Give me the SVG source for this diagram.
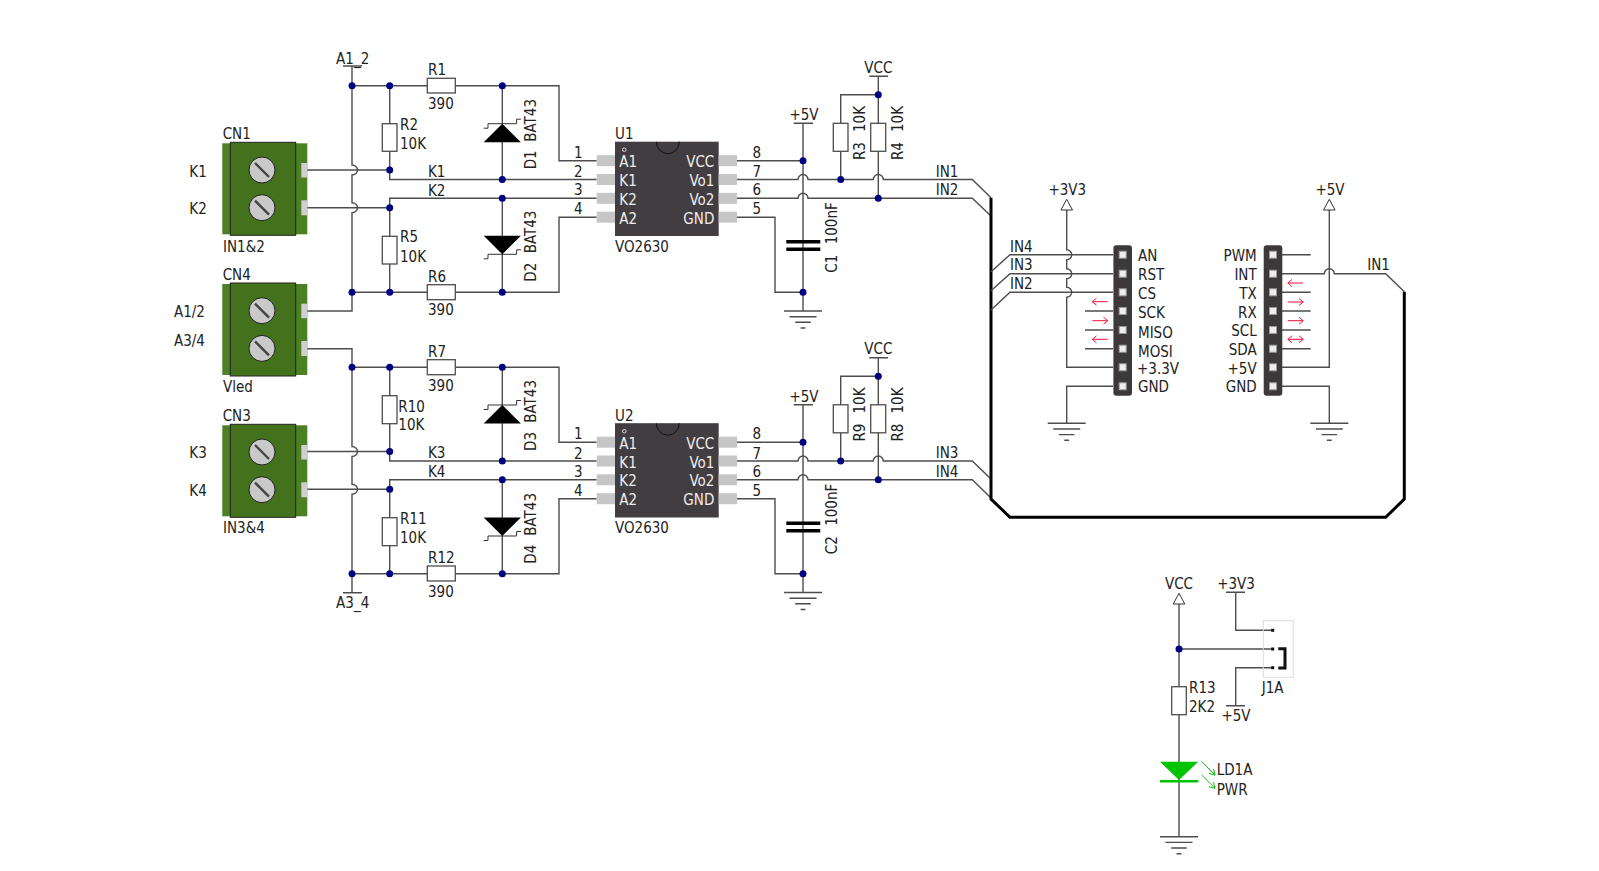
<svg xmlns="http://www.w3.org/2000/svg" width="1599" height="871" viewBox="0 0 1599 871">
<style>
text{font-family:"DejaVu Sans Condensed","DejaVu Sans",sans-serif;font-stretch:condensed;font-size:15px;fill:#222}
.m{text-anchor:middle}.e{text-anchor:end}
.w{fill:none;stroke:#4d4d4d;stroke-width:1.4}
.t{fill:none;stroke:#333;stroke-width:1}
.b{fill:none;stroke:#000;stroke-width:3}
.r{fill:#fff;stroke:#4d4d4d;stroke-width:1.3}
.d{fill:#000080}
.ic{fill:#423d40}
.pin{fill:#c6c6c6}
.it{fill:#eee}
.a{fill:none;stroke:#f0103a;stroke-width:1}
.g{fill:none;stroke:#10c010;stroke-width:1}
</style>
<defs>
<g id="gnd"><path class="w" d="M-19 0H19M-13.500 5.700H13.500M-7.800 11.300H7.800M-2.400 17H2.400"/></g>
<circle id="dot" class="d" r="3.500"/>
<g id="term">
<rect x="-39.700" y="1" width="85" height="91" fill="#4d7f24"/>
<rect x="-31.700" width="65.400" height="93" fill="#44711c" stroke="#222" stroke-width="1"/>
<rect x="39.300" y="20.700" width="6" height="14.500" fill="#cfcfcf"/>
<rect x="39.300" y="58" width="6" height="15" fill="#cfcfcf"/>
<g fill="#c9c9c9" stroke="#222" stroke-width="1"><circle cy="27.700" r="13"/><circle cy="65.400" r="13"/></g>
<path d="M-7 20.700L7 34.700M-7 58.400L7 72.400" stroke="#444" stroke-width="2.400" fill="none"/>
</g>
<g id="u">
<rect class="ic" x="615" y="141.700" width="103.700" height="94.300"/>
<path d="M656.300 141.700a11.500 12 0 0 0 23 0" fill="none" stroke="#111" stroke-width="1"/>
<circle cx="624.300" cy="149.700" r="1.800" fill="none" stroke="#ddd" stroke-width="1"/>
<g class="pin"><rect x="596.700" y="155.200" width="18.300" height="11"/><rect x="596.700" y="174" width="18.300" height="11"/><rect x="596.700" y="192.800" width="18.300" height="11"/><rect x="596.700" y="211.700" width="18.300" height="11"/><rect x="718.700" y="155.200" width="18.300" height="11"/><rect x="718.700" y="174" width="18.300" height="11"/><rect x="718.700" y="192.800" width="18.300" height="11"/><rect x="718.700" y="211.700" width="18.300" height="11"/></g>
</g>
<g id="hdr">
<rect x="-9.300" y="245.300" width="18.600" height="150.400" rx="3" fill="#3d393b"/>
<g fill="#eee" stroke="#999" stroke-width="1"><rect x="-3.500" y="251.200" width="7" height="7"/><rect x="-3.500" y="270.200" width="7" height="7"/><rect x="-3.500" y="288.800" width="7" height="7"/><rect x="-3.500" y="307.500" width="7" height="7"/><rect x="-3.500" y="326.500" width="7" height="7"/><rect x="-3.500" y="345.200" width="7" height="7"/><rect x="-3.500" y="363.800" width="7" height="7"/><rect x="-3.500" y="382.800" width="7" height="7"/></g>
</g>
<path id="al" class="a" d="M-7.700 0H7.700M-3.500-3.500L-7.700 0L-3.500 3.500"/>
<path id="ar" class="a" d="M-7.700 0H7.700M3.500-3.500L7.700 0L3.500 3.500"/>
<path id="ab" class="a" d="M-7.700 0H7.700M3.500-3.500L7.700 0L3.500 3.500M-3.500-3.500L-7.700 0L-3.500 3.500"/>
<path id="tri" d="M0 0L5.800 10.700H-5.800Z" fill="#fff" stroke="#333" stroke-width="1"/>
<g id="dup"><path d="M-18.600 18.600L0 0L18.600 18.600Z" fill="#000"/><path d="M18.600-4.500H14.300V0H-14.300V4.500H-18.600" class="t"/></g>
<g id="ddn"><path d="M-18.600-18.600L0 0L18.600-18.600Z" fill="#000"/><path d="M18.600-4.500H14.300V0H-14.300V4.500H-18.600" class="t"/></g>
</defs>

<g id="connectors">
<path class="w" d="M352 66V165a5.500 5 0 0 1 0 10V202.700a5.500 5 0 0 1 0 10V311H307"/>
<path class="w" d="M307 170H389.700V179.500H596.700"/>
<path class="w" d="M307 207.700H389.700V198.300H596.700"/>
<path class="w" d="M352 85.700H559V160.700H596.700"/>
<path class="w" d="M352 292.300H559V217.200H596.700"/>
<path class="w" d="M389.700 85.700V170M389.700 207.700V292.300"/>
<path class="w" d="M502.300 85.700V179.500M502.300 198.300V292.300"/>
<path class="w" d="M737 160.700H803"/>
<path class="w" d="M737 179.500H798a5 5 0 0 1 10 0H873.300a5 5 0 0 1 10 0H972.300L991 197.700"/>
<path class="w" d="M737 198.300H798a5 5 0 0 1 10 0H972.300L991 216"/>
<path class="w" d="M737 217.200H775V292.300H803"/>
<path class="w" d="M803 123.300V311"/>
<path class="w" d="M878.300 76.300V198.300"/>
<path class="w" d="M878.300 94.700H840.700V179.500"/>

<path class="w" d="M307 348.700H352V446.500a5.500 5 0 0 1 0 10V484.200a5.500 5 0 0 1 0 10V592.700"/>
<path class="w" d="M307 451.500H389.700V461H596.700"/>
<path class="w" d="M307 489.200H389.700V479.800H596.700"/>
<path class="w" d="M352 367.200H559V442.200H596.700"/>
<path class="w" d="M352 573.800H559V498.700H596.700"/>
<path class="w" d="M389.700 367.200V451.500M389.700 489.200V573.800"/>
<path class="w" d="M502.300 367.200V461M502.300 479.800V573.800"/>
<path class="w" d="M737 442.200H803"/>
<path class="w" d="M737 461H798a5 5 0 0 1 10 0H873.300a5 5 0 0 1 10 0H972.300L991 479"/>
<path class="w" d="M737 479.800H798a5 5 0 0 1 10 0H972.300L991 498"/>
<path class="w" d="M737 498.700H775V573.800H803"/>
<path class="w" d="M803 404.800V592.500"/>
<path class="w" d="M878.300 357.800V479.800"/>
<path class="w" d="M878.300 376.200H840.700V461"/>

<path class="b" d="M1404.300 291.700V499L1385.700 517.300H1010L991 499V197.700"/>
<path class="w" d="M1282 273.700H1324.300a5 5 0 0 1 10 0H1385.700L1404.300 291.700"/>
<path class="w" d="M1113 254.700H1010L991 271.700"/>
<path class="w" d="M1113 273.700H1010L991 290.700"/>
<path class="w" d="M1113 292.300H1010L991 310"/>
<path class="w" d="M1066.700 210V249.700a5 5 0 0 1 0 10V268.700a5 5 0 0 1 0 10V287.300a5 5 0 0 1 0 10V367.300H1113"/>
<path class="w" d="M1113 386.300H1066.700V423.300"/>
<path class="w" d="M1085 311H1113M1085 330H1113M1085 348.700H1113"/>
<path class="w" d="M1282 254.700H1310.700M1282 292.300H1310.700M1282 311H1310.700M1282 330H1310.700M1282 348.700H1310.700"/>
<path class="w" d="M1329.300 210V367.300H1282"/>
<path class="w" d="M1282 386.300H1329.300V423.300"/>
<path class="w" d="M1179 604V836.700"/>
<path class="w" d="M1179 649H1272.700"/>
<path class="w" d="M1235.700 592.300V630.300H1272.700"/>
<path class="w" d="M1235.700 705.700V667.700H1272.700"/>
<path class="w" d="M343 66H362M343 592.700H362M793.700 123.300H813M793.700 404.800H813M869.300 76.300H888M869.300 357.800H888M1226 592.300H1245M1226 705.700H1245"/>
</g>

<g id="CN1"><use href="#term" x="262" y="142.300"/><text x="222.700" y="139">CN1</text><text x="223" y="251.700">IN1&amp;2</text><text x="189.300" y="176.700">K1</text><text x="189.300" y="214">K2</text></g>
<g id="CN4"><use href="#term" x="262" y="283"/><text x="222.700" y="280">CN4</text><text x="223" y="392.300">Vled</text><text x="174" y="317.300">A1/2</text><text x="174" y="345.700">A3/4</text></g>
<g id="CN3"><use href="#term" x="262" y="424.300"/><text x="222.700" y="420.700">CN3</text><text x="223" y="533.300">IN3&amp;4</text><text x="189.300" y="458.300">K3</text><text x="189.300" y="495.700">K4</text></g>

<g id="A1_2"><text class="m" x="352.700" y="64">A1_2</text></g>
<g id="A3_4"><text class="m" x="352.700" y="608.300">A3_4</text></g>

<g id="R1"><rect class="r" x="427.300" y="78.300" width="28" height="14.700"/><text x="428" y="75">R1</text><text x="428" y="109">390</text></g>
<g id="R2"><rect class="r" x="382.300" y="123.700" width="14.700" height="27.600"/><text x="400" y="130">R2</text><text x="400" y="149">10K</text></g>
<g id="R5"><rect class="r" x="382.300" y="236.300" width="14.700" height="27.700"/><text x="400" y="242.300">R5</text><text x="400" y="261.700">10K</text></g>
<g id="R6"><rect class="r" x="427.300" y="284.700" width="28" height="15"/><text x="428" y="281.700">R6</text><text x="428" y="315">390</text></g>
<g id="R7"><rect class="r" x="427.300" y="359.700" width="28" height="15"/><text x="428" y="356.700">R7</text><text x="428" y="390.700">390</text></g>
<g id="R10"><rect class="r" x="382.300" y="395.700" width="14.700" height="28"/><text x="398.300" y="411.700">R10</text><text x="398.300" y="430">10K</text></g>
<g id="R11"><rect class="r" x="382.300" y="517.700" width="14.700" height="28"/><text x="400" y="524.300">R11</text><text x="400" y="542.700">10K</text></g>
<g id="R12"><rect class="r" x="427.300" y="566" width="28" height="15"/><text x="428" y="562.700">R12</text><text x="428" y="597.300">390</text></g>

<g id="D1"><use href="#dup" x="502.300" y="123.700"/><text transform="translate(536 141.700) rotate(-90)">BAT43</text><text transform="translate(536 169.300) rotate(-90)">D1</text></g>
<g id="D2"><use href="#ddn" x="502.300" y="254.300"/><text transform="translate(536 253.300) rotate(-90)">BAT43</text><text transform="translate(536 281.700) rotate(-90)">D2</text></g>
<g id="D3"><use href="#dup" x="502.300" y="405"/><text transform="translate(536 422.700) rotate(-90)">BAT43</text><text transform="translate(536 451) rotate(-90)">D3</text></g>
<g id="D4"><use href="#ddn" x="502.300" y="536"/><text transform="translate(536 535.700) rotate(-90)">BAT43</text><text transform="translate(536 563.700) rotate(-90)">D4</text></g>

<g id="U1"><use href="#u"/>
<text x="615" y="139.300">U1</text><text x="615" y="251.700">VO2630</text>
<text class="m" x="578.300" y="157.700">1</text><text class="m" x="578.300" y="177">2</text><text class="m" x="578.300" y="195">3</text><text class="m" x="578.300" y="214">4</text><text class="m" x="756.700" y="157.700">8</text><text class="m" x="756.700" y="177">7</text><text class="m" x="756.700" y="195">6</text><text class="m" x="756.700" y="214">5</text>
<text class="it" x="619.300" y="167.300">A1</text><text class="it" x="619.300" y="186">K1</text><text class="it" x="619.300" y="204.700">K2</text><text class="it" x="619.300" y="223.500">A2</text>
<text class="it e" x="714.300" y="167.300">VCC</text><text class="it e" x="714.300" y="186">Vo1</text><text class="it e" x="714.300" y="204.700">Vo2</text><text class="it e" x="714.300" y="223.500">GND</text>
</g>
<g id="U2"><use href="#u" y="281.500"/>
<text x="615" y="420.800">U2</text><text x="615" y="533.200">VO2630</text>
<text class="m" x="578.300" y="439.200">1</text><text class="m" x="578.300" y="458.500">2</text><text class="m" x="578.300" y="476.500">3</text><text class="m" x="578.300" y="495.500">4</text><text class="m" x="756.700" y="439.200">8</text><text class="m" x="756.700" y="458.500">7</text><text class="m" x="756.700" y="476.500">6</text><text class="m" x="756.700" y="495.500">5</text>
<text class="it" x="619.300" y="448.800">A1</text><text class="it" x="619.300" y="467.500">K1</text><text class="it" x="619.300" y="486.200">K2</text><text class="it" x="619.300" y="505">A2</text>
<text class="it e" x="714.300" y="448.800">VCC</text><text class="it e" x="714.300" y="467.500">Vo1</text><text class="it e" x="714.300" y="486.200">Vo2</text><text class="it e" x="714.300" y="505">GND</text>
</g>

<g id="wire-labels">
<text x="428" y="176.700">K1</text><text x="428" y="195.700">K2</text><text x="428" y="458.300">K3</text><text x="428" y="476.700">K4</text>
<text x="935.700" y="176.700">IN1</text><text x="935.700" y="195">IN2</text><text x="935.700" y="458.200">IN3</text><text x="935.700" y="476.500">IN4</text>
<text x="1010" y="251.700">IN4</text><text x="1010" y="270">IN3</text><text x="1010" y="289.300">IN2</text><text x="1367.300" y="270">IN1</text>
</g>

<g id="R3"><rect class="r" x="833.300" y="123.300" width="14.700" height="28"/><text transform="translate(865 160) rotate(-90)">R3</text><text transform="translate(865 132) rotate(-90)">10K</text></g>
<g id="R4"><rect class="r" x="870.700" y="123.300" width="15" height="28"/><text transform="translate(902.700 160) rotate(-90)">R4</text><text transform="translate(902.700 132) rotate(-90)">10K</text></g>
<g id="R9"><rect class="r" x="833.300" y="404.800" width="14.700" height="28"/><text transform="translate(865 441.500) rotate(-90)">R9</text><text transform="translate(865 413.500) rotate(-90)">10K</text></g>
<g id="R8"><rect class="r" x="870.700" y="404.800" width="15" height="28"/><text transform="translate(902.700 441.500) rotate(-90)">R8</text><text transform="translate(902.700 413.500) rotate(-90)">10K</text></g>
<g id="C1"><path d="M786.300 241.700H820.300M786.300 249.300H820.300" stroke="#000" stroke-width="3.500" fill="none"/><text transform="translate(836.700 272.700) rotate(-90)">C1</text><text transform="translate(836.700 244.300) rotate(-90)">100nF</text></g>
<g id="C2"><path d="M786.300 523.200H820.300M786.300 530.800H820.300" stroke="#000" stroke-width="3.500" fill="none"/><text transform="translate(836.700 554.200) rotate(-90)">C2</text><text transform="translate(836.700 525.800) rotate(-90)">100nF</text></g>

<g id="supplies">
<text class="m" x="804" y="120">+5V</text><text class="m" x="804" y="401.500">+5V</text>
<text class="m" x="878.300" y="72.700">VCC</text><text class="m" x="878.300" y="354.200">VCC</text>
<use href="#gnd" x="803" y="311"/><use href="#gnd" x="803" y="592.500"/>
</g>

<g id="dots">
<use href="#dot" x="352" y="85.700"/><use href="#dot" x="389.700" y="85.700"/><use href="#dot" x="502.300" y="85.700"/><use href="#dot" x="389.700" y="170"/><use href="#dot" x="502.300" y="179.500"/><use href="#dot" x="502.300" y="198.300"/><use href="#dot" x="389.700" y="207.700"/><use href="#dot" x="352" y="292.300"/><use href="#dot" x="389.700" y="292.300"/><use href="#dot" x="502.300" y="292.300"/>
<use href="#dot" x="803" y="160.700"/><use href="#dot" x="840.700" y="179.500"/><use href="#dot" x="878.300" y="198.300"/><use href="#dot" x="878.300" y="94.700"/><use href="#dot" x="803" y="292.300"/>
<use href="#dot" x="352" y="367.200"/><use href="#dot" x="389.700" y="367.200"/><use href="#dot" x="502.300" y="367.200"/><use href="#dot" x="389.700" y="451.500"/><use href="#dot" x="502.300" y="461"/><use href="#dot" x="502.300" y="479.800"/><use href="#dot" x="389.700" y="489.200"/><use href="#dot" x="352" y="573.800"/><use href="#dot" x="389.700" y="573.800"/><use href="#dot" x="502.300" y="573.800"/>
<use href="#dot" x="803" y="442.200"/><use href="#dot" x="840.700" y="461"/><use href="#dot" x="878.300" y="479.800"/><use href="#dot" x="878.300" y="376.200"/><use href="#dot" x="803" y="573.800"/>
<use href="#dot" x="1179" y="649"/>
</g>

<g id="H1"><use href="#hdr" x="1122.700"/>
<text x="1138" y="261">AN</text><text x="1138" y="280">RST</text><text x="1138" y="298.700">CS</text><text x="1138" y="317.700">SCK</text><text x="1138" y="337.700">MISO</text><text x="1138" y="356.700">MOSI</text><text x="1137" y="373.700">+3.3V</text><text x="1138" y="392.300">GND</text>
<use href="#al" x="1100" y="301.700"/><use href="#ar" x="1100" y="320.700"/><use href="#al" x="1100" y="339.300"/>
<use href="#tri" x="1066.700" y="199.300"/><text class="m" x="1067.300" y="195">+3V3</text><use href="#gnd" x="1066.700" y="423.300"/>
</g>
<g id="H2"><use href="#hdr" x="1273"/>
<text class="e" x="1256.700" y="261">PWM</text><text class="e" x="1256.700" y="280">INT</text><text class="e" x="1256.700" y="298.700">TX</text><text class="e" x="1256.700" y="317.700">RX</text><text class="e" x="1256.700" y="336.300">SCL</text><text class="e" x="1256.700" y="355">SDA</text><text class="e" x="1256.700" y="373.700">+5V</text><text class="e" x="1256.700" y="392.300">GND</text>
<use href="#al" x="1295.500" y="283"/><use href="#ar" x="1295.500" y="302"/><use href="#ar" x="1295.500" y="320.700"/><use href="#ab" x="1295.500" y="339.300"/>
<use href="#tri" x="1329.300" y="199.300"/><text class="m" x="1330" y="195">+5V</text><use href="#gnd" x="1329.300" y="423.300"/>
</g>

<g id="J1A">
<rect x="1263.300" y="620.700" width="30" height="56.600" fill="none" stroke="#ddd" stroke-width="1"/>
<g fill="#111"><rect x="1271.200" y="628.800" width="3" height="3"/><rect x="1271.200" y="647.500" width="3" height="3"/><rect x="1271.200" y="666.200" width="3" height="3"/></g>
<path d="M1278.300 648.800H1285V668H1278.300" fill="none" stroke="#111" stroke-width="3"/>
<text x="1261.700" y="692.700">J1A</text>
</g>
<g id="pwr-labels">
<use href="#tri" x="1179" y="593.300"/><text class="m" x="1179" y="589.300">VCC</text>
<text class="m" x="1236" y="589">+3V3</text><text class="m" x="1236" y="720.700">+5V</text>
<use href="#gnd" x="1179" y="836.700"/>
</g>
<g id="R13"><rect class="r" x="1171.700" y="686.700" width="14.600" height="28"/><text x="1189" y="692.700">R13</text><text x="1189" y="711.700">2K2</text></g>
<g id="LD1A">
<path d="M1160 761.700H1198.300L1179 780Z" fill="#00c400"/><path d="M1160 781.300H1198.300" stroke="#00c400" stroke-width="2.500" fill="none"/>
<path class="g" d="M1201.700 761.700L1215 775M1209 773.500L1215 775L1213.500 769M1201.700 775L1215 788.300M1209 786.800L1215 788.300L1213.500 782.300"/>
<text x="1216.700" y="775">LD1A</text><text x="1216.700" y="795">PWR</text>
</g>
</svg>
